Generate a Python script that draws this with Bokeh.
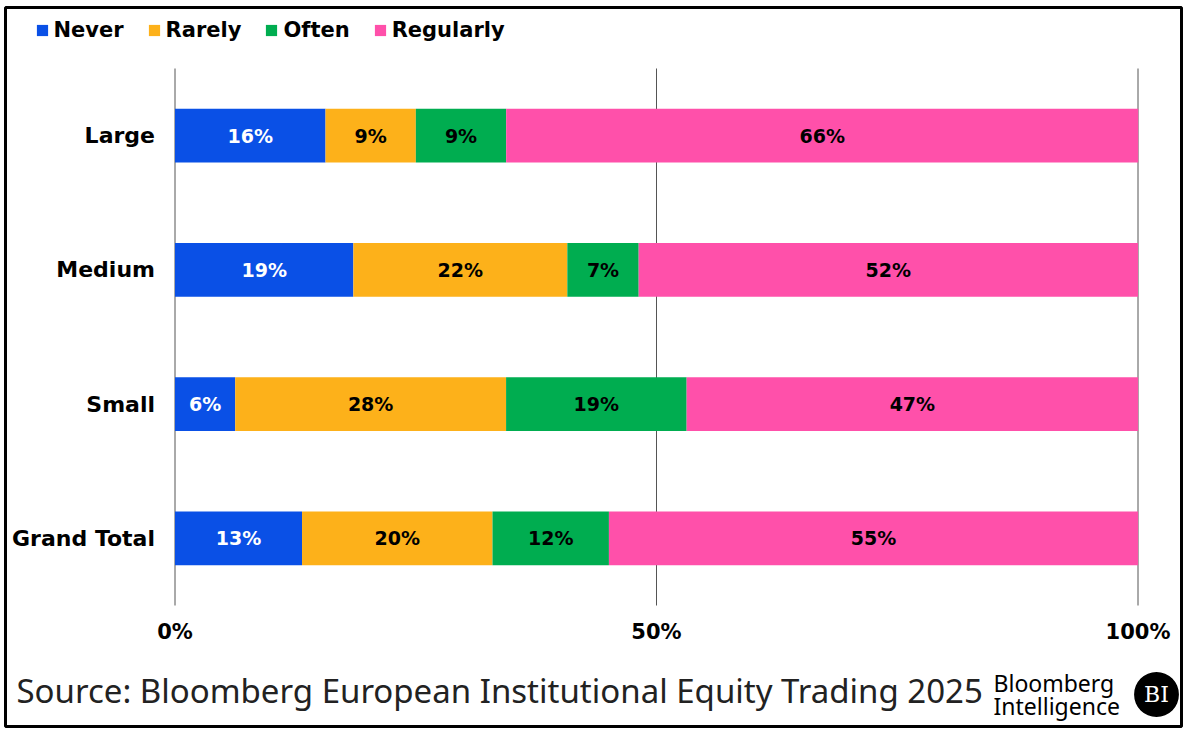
from bokeh.plotting import figure
from bokeh.models import (ColumnDataSource, Range1d, FixedTicker, LinearAxis,
                          Legend, LegendItem, Label, Grid)
from bokeh.core.properties import value
from bokeh.embed import file_html
from bokeh.resources import INLINE

# ---- data ----
categories = ["Large", "Medium", "Small", "Grand Total"]
series = ["Never", "Rarely", "Often", "Regularly"]
never = [15.63, 18.52, 6.25, 13.19]
rarely = [9.38, 22.22, 28.13, 19.78]
often = [9.38, 7.41, 18.75, 12.09]
regularly = [65.63, 51.85, 46.88, 54.95]
x_ticks = [0, 50, 100]
x_tick_labels = ["0%", "50%", "100%"]
source_text = "Source: Bloomberg European Institutional Equity Trading 2025"
logo_lines = ["Bloomberg", "Intelligence"]
logo_mark = "BI"

# ---- styles / layout (pixels) ----
colors = ["#0A50E6", "#FDB11A", "#00AD50", "#FF50AA"]
label_colors = ["white", "black", "black", "black"]
FONT = "DejaVu Sans"
W, H = 1186, 731
BL, BR, BT, BB = 5, 5, 7, 5            # frame inset (border drawn on frame outline)
PX0, PX100 = 174.5, 1137.5              # pixel of 0% and 100%
PY_TOP, PY_BOT = 68, 605                # band extent of categories

n = len(categories)
ypos = [n - i - 0.5 for i in range(n)]

fl, fr, ft, fb = BL, W - BR, BT, H - BB
xu = (PX100 - PX0) / 100.0
yu = (PY_BOT - PY_TOP) / n
x_range = Range1d(-(PX0 - fl) / xu, 100 + (fr - PX100) / xu)
y_range = Range1d(-(fb - PY_BOT) / yu, n + (PY_TOP - ft) / yu)

data = {"y": ypos, "Never": never, "Rarely": rarely, "Often": often, "Regularly": regularly}
src = ColumnDataSource(data)

p = figure(width=W, height=H, x_range=x_range, y_range=y_range,
           x_axis_location=None, y_axis_location=None,
           output_backend="svg", toolbar_location=None,
           min_border_left=BL, min_border_right=BR, min_border_top=BT,
           min_border_bottom=BB, outline_line_color="black", outline_line_width=3,
           background_fill_color="white", border_fill_color="white")
p.center = [c for c in p.center if not isinstance(c, Grid)]

# vertical grid lines at the ticks, spanning the category bands
p.segment(x0=x_ticks, x1=x_ticks, y0=[0] * len(x_ticks), y1=[n] * len(x_ticks),
          line_color="#555555", line_width=1, level="underlay")

renderers = p.hbar_stack(series, y="y", height=0.4, color=colors, source=src,
                         line_color=None)

# segment labels
xs, ys, txt, tcol = [], [], [], []
for i in range(n):
    left = 0.0
    for s, col in zip(series, label_colors):
        v = data[s][i]
        xs.append(left + v / 2)
        ys.append(ypos[i])
        txt.append(f"{round(v)}%")
        tcol.append(col)
        left += v
lab_src = ColumnDataSource(dict(x=xs, y=ys, text=txt, color=tcol))
p.text(x="x", y="y", text="text", text_color="color", source=lab_src,
       text_align="center", text_baseline="middle",
       text_font=value(FONT), text_font_style="bold", text_font_size="19px")

# axes fixed at the chart edges
xaxis = LinearAxis(fixed_location=0, ticker=FixedTicker(ticks=x_ticks),
                   major_label_overrides=dict(zip(x_ticks, x_tick_labels)))
yaxis = LinearAxis(fixed_location=0, ticker=FixedTicker(ticks=ypos),
                   major_label_overrides=dict(zip(ypos, categories)))
for ax in (xaxis, yaxis):
    ax.axis_line_color = None
    ax.major_tick_line_color = None
    ax.minor_tick_line_color = None
    ax.major_tick_out = 0
    ax.major_tick_in = 0
    ax.major_label_text_font = FONT
    ax.major_label_text_font_style = "bold"
    ax.major_label_text_color = "black"
xaxis.major_label_text_font_size = "21px"
yaxis.major_label_text_font_size = "22px"
xaxis.major_label_standoff = 14
yaxis.major_label_standoff = 20
p.add_layout(xaxis, "below")
p.add_layout(yaxis, "left")

# legend
legend = Legend(items=[LegendItem(label=s, renderers=[r]) for s, r in zip(series, renderers)],
                orientation="horizontal", location=(29.5, 684.5),
                glyph_width=14, glyph_height=14, label_standoff=5, spacing=23,
                padding=0, margin=0, border_line_color=None,
                background_fill_alpha=0,
                label_text_font=FONT, label_text_font_style="bold",
                label_text_font_size="21px", label_text_color="black")
p.add_layout(legend, "center")

# footer (screen units relative to frame bottom-left)
p.add_layout(Label(x=16 - fl, y=fb - 690, x_units="screen", y_units="screen",
                   text=source_text, text_font="Noto Sans", text_font_size="33px",
                   text_color="#222222", text_baseline="alphabetic"))
p.add_layout(Label(x=993 - fl, y=fb - 682, x_units="screen", y_units="screen",
                   text=logo_lines[0], text_font="Noto Sans", text_font_size="23px",
                   text_color="black", text_baseline="alphabetic"))
p.add_layout(Label(x=993 - fl, y=fb - 705, x_units="screen", y_units="screen",
                   text=logo_lines[1], text_font="Noto Sans", text_font_size="23px",
                   text_color="black", text_baseline="alphabetic"))
p.add_layout(Label(x=1156 - fl, y=fb - 694, x_units="screen", y_units="screen",
                   text=logo_mark, text_font="DejaVu Serif", text_font_size="22px",
                   text_color="white", text_align="center", text_baseline="middle",
                   background_fill_color="black", border_radius=23, padding=10))

open("out.html", "w").write(file_html(p, INLINE))
